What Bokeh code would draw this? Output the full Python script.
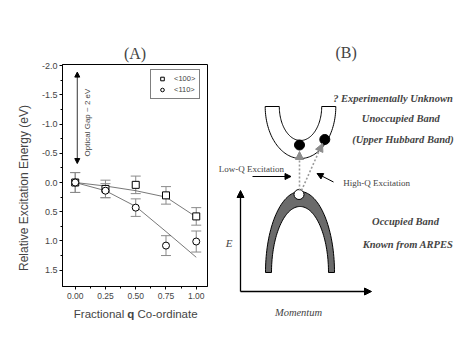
import numpy as np
from bokeh.plotting import figure
from bokeh.layouts import row, column
from bokeh.models import (Range1d, FixedTicker, NumeralTickFormatter, ColumnDataSource,
                          Whisker, TeeHead, Legend, LegendItem, Label, Arrow, NormalHead)
from bokeh.embed import file_html
from bokeh.resources import INLINE

# ---------------- data (panel A) ----------------
q = [0.0, 0.25, 0.5, 0.75, 1.0]
e100 = [0.0, 0.11, 0.04, 0.22, 0.58]
err100 = [0.17, 0.15, 0.15, 0.15, 0.15]
e110 = [0.0, 0.14, 0.43, 1.08, 1.01]
err110 = [0.17, 0.12, 0.15, 0.17, 0.18]
fit100 = [0.0, 0.06, 0.14, 0.25, 0.59]
fit110 = [0.0, 0.14, 0.41, 0.84, 1.28]
x_ticks = [0.0, 0.25, 0.5, 0.75, 1.0]
y_ticks = [-2.0, -1.5, -1.0, -0.5, 0.0, 0.5, 1.0, 1.5]
series_labels = ["<100>", "<110>"]

SANS = "Liberation Sans"
SERIF = "Liberation Serif"


def blank(width, height, xr, yr):
    f = figure(width=width, height=height, x_range=Range1d(*xr), y_range=Range1d(*yr),
               output_backend="svg", toolbar_location=None, min_border=0, frame_align=False)
    f.axis.visible = False
    f.grid.visible = False
    f.outline_line_color = None
    return f


# ---------------- y-axis title strip ----------------
pY = blank(34, 359, (0, 34), (359, 0))
pY.add_layout(Label(x=23, y=187.5, text="Relative Excitation Energy (eV)", angle=np.pi / 2,
                    text_align="center", text_baseline="middle", text_font=SANS, text_font_size="12px"))

# ---------------- panel A ----------------
pA = figure(width=179, height=305, x_range=Range1d(-0.105, 1.093), y_range=Range1d(1.78, -2.02),
            output_backend="svg", toolbar_location=None, frame_align=False,
            min_border_left=28, min_border_right=6, min_border_top=64, min_border_bottom=19)
pA.grid.visible = False
pA.outline_line_color = "black"
pA.outline_line_width = 1
pA.title.text = "(A)"
pA.title.align = "center"
pA.title.offset = -3
pA.title.standoff = 6
pA.title.text_font = SERIF
pA.title.text_font_size = "16px"
pA.title.text_font_style = "normal"

pA.xaxis.ticker = FixedTicker(ticks=x_ticks,
                              minor_ticks=[(a + b) / 2 for a, b in zip(x_ticks[:-1], x_ticks[1:])])
pA.yaxis.ticker = FixedTicker(ticks=y_ticks,
                              minor_ticks=[(a + b) / 2 for a, b in zip(y_ticks[:-1], y_ticks[1:])])
pA.xaxis.formatter = NumeralTickFormatter(format="0.00")
pA.yaxis.formatter = NumeralTickFormatter(format="0.0")
for ax in (pA.xaxis, pA.yaxis):
    ax.major_label_text_font = SANS
    ax.major_tick_out = 3
    ax.major_tick_in = 0
    ax.minor_tick_out = 2
    ax.minor_tick_in = 0
    ax.axis_line_color = "black"
    ax.major_tick_line_color = "black"
    ax.minor_tick_line_color = "black"
pA.xaxis.major_label_text_font_size = "8.5px"
pA.yaxis.major_label_text_font_size = "9px"
pA.xaxis.major_label_standoff = 3
pA.yaxis.major_label_standoff = 2

pA.line(q, fit100, line_color="#555555", line_width=0.8)
pA.line(q, fit110, line_color="#555555", line_width=0.8)

for vals, errs in ((e100, err100), (e110, err110)):
    src = ColumnDataSource(dict(x=q, lower=[v - e for v, e in zip(vals, errs)],
                                upper=[v + e for v, e in zip(vals, errs)]))
    w = Whisker(source=src, base="x", lower="lower", upper="upper",
                line_color="#8a8a8a", line_width=1,
                lower_head=TeeHead(size=10, line_color="#8a8a8a", line_width=1),
                upper_head=TeeHead(size=10, line_color="#8a8a8a", line_width=1))
    w.level = "underlay"
    pA.add_layout(w)

sq = pA.scatter(q, e100, marker="square", size=7, fill_color="white", line_color="black", line_width=1)
ci = pA.scatter(q, e110, marker="circle", size=7, fill_color="white", line_color="black", line_width=1)

legend = Legend(items=[LegendItem(label=series_labels[0], renderers=[sq]),
                       LegendItem(label=series_labels[1], renderers=[ci])],
                location=(88, 187), label_text_font=SANS, label_text_font_size="7.5px",
                glyph_width=14, glyph_height=9, label_height=9, label_standoff=5,
                padding=4, spacing=2, margin=0, border_line_color="black", border_line_width=0.8)
pA.add_layout(legend)

pA.add_layout(Arrow(start=NormalHead(size=5, fill_color="black", line_color="black"),
                    end=NormalHead(size=5, fill_color="black", line_color="black"),
                    x_start=0.017, y_start=-0.325, x_end=0.017, y_end=-1.89, line_width=0.8))
pA.add_layout(Label(x=0.102, y=-1.027, text="Optical Gap ~ 2 eV", angle=np.pi / 2,
                    text_align="center", text_baseline="middle", text_font=SANS, text_font_size="8px"))

# ---------------- x-axis title strip ----------------
pX = blank(179, 54, (34, 213), (359, 305))
pX.add_layout(Label(x=73.3, y=313.3, text="Fractional", text_align="left", text_baseline="middle",
                    text_font=SANS, text_font_size="11.5px"))
pX.add_layout(Label(x=126.8, y=313.3, text="q", text_align="left", text_baseline="middle",
                    text_font=SANS, text_font_size="11.5px", text_font_style="bold"))
pX.add_layout(Label(x=137.0, y=313.3, text="Co-ordinate", text_align="left", text_baseline="middle",
                    text_font=SANS, text_font_size="11.5px"))

# ---------------- panel B (schematic) ----------------
pB = blank(256, 359, (213, 469), (359, 0))

# occupied band (semi-elliptic arch)
occ_cx, occ_base = 299.5, 272
occ_outer, occ_inner = (34.5, 81), (28.5, 66)
t1 = np.linspace(np.pi, 0, 80)
t2 = np.linspace(0, np.pi, 80)
occ_x = np.concatenate([occ_cx + occ_outer[0] * np.cos(t1), occ_cx + occ_inner[0] * np.cos(t2)])
occ_y = np.concatenate([occ_base - occ_outer[1] * np.sin(t1), occ_base - occ_inner[1] * np.sin(t2)])
pB.patch(occ_x, occ_y, fill_color="#6b6b6b", line_color="black", line_width=1)

# unoccupied band (U shape)
un_cx, un_top = 300, 106
un_outer, un_inner = (35.3, 52), (21.2, 34)
un_x = np.concatenate([un_cx + un_outer[0] * np.cos(t1), un_cx + un_inner[0] * np.cos(t2)])
un_y = np.concatenate([un_top + un_outer[1] * np.sin(t1), un_top + un_inner[1] * np.sin(t2)])
pB.patch(un_x, un_y, fill_color="white", line_color="black", line_width=1)

# excitation arrows (dotted gray)
gray_head = dict(size=8, fill_color="#8c8c8c", line_color="#8c8c8c")
pB.add_layout(Arrow(end=NormalHead(**gray_head), x_start=299, y_start=190, x_end=299, y_end=151,
                    line_color="#9a9a9a", line_width=1.6, line_dash="2 2"))
pB.add_layout(Arrow(end=NormalHead(**gray_head), x_start=301, y_start=190, x_end=322, y_end=143,
                    line_color="#9a9a9a", line_width=1.6, line_dash="2 2"))

# electrons / hole
pB.scatter([299, 324.3], [144.5, 139], marker="circle", size=10, fill_color="black", line_color="black")
pB.scatter([298.5], [194], marker="circle", size=10, fill_color="white", line_color="black", line_width=1)

# pointer arrows
blk = dict(size=6, fill_color="black", line_color="black")
pB.add_layout(Arrow(end=NormalHead(**blk), x_start=252, y_start=176, x_end=290.5, y_end=176, line_width=1))
pB.add_layout(Arrow(end=NormalHead(**blk), x_start=333, y_start=181.5, x_end=316.5, y_end=173, line_width=1))

# axes of the schematic
pB.add_layout(Arrow(end=NormalHead(size=7, fill_color="black", line_color="black"),
                    x_start=240, y_start=291, x_end=240, y_end=190, line_width=1.3))
pB.add_layout(Arrow(end=NormalHead(size=7, fill_color="black", line_color="black"),
                    x_start=240, y_start=291, x_end=371, y_end=291, line_width=1.3))


def lab(x, y, text, size, style="normal", align="center"):
    pB.add_layout(Label(x=x, y=y, text=text, text_align=align, text_baseline="middle",
                        text_font=SERIF, text_font_size=size, text_font_style=style))


lab(345.7, 51.7, "(B)", "16px")
lab(332.7, 98.3, "? Experimentally Unknown", "10.5px", "bold italic", "left")
lab(400.3, 118.3, "Unoccupied Band", "10.5px", "bold italic")
lab(402.5, 139, "(Upper Hubbard Band)", "10.5px", "bold italic")
lab(405, 220.7, "Occupied Band", "10.5px", "bold italic")
lab(407.5, 244, "Known from ARPES", "10.5px", "bold italic")
lab(218.3, 168.3, "Low-Q Excitation", "9px", "normal", "left")
lab(342.7, 182.3, "High-Q Excitation", "9px", "normal", "left")
lab(228.7, 242.3, "E", "11px", "italic")
lab(298, 311.7, "Momentum", "10.5px", "italic")

layout = row(pY, column(pA, pX), pB)
open("out.html", "w").write(file_html(layout, INLINE))
